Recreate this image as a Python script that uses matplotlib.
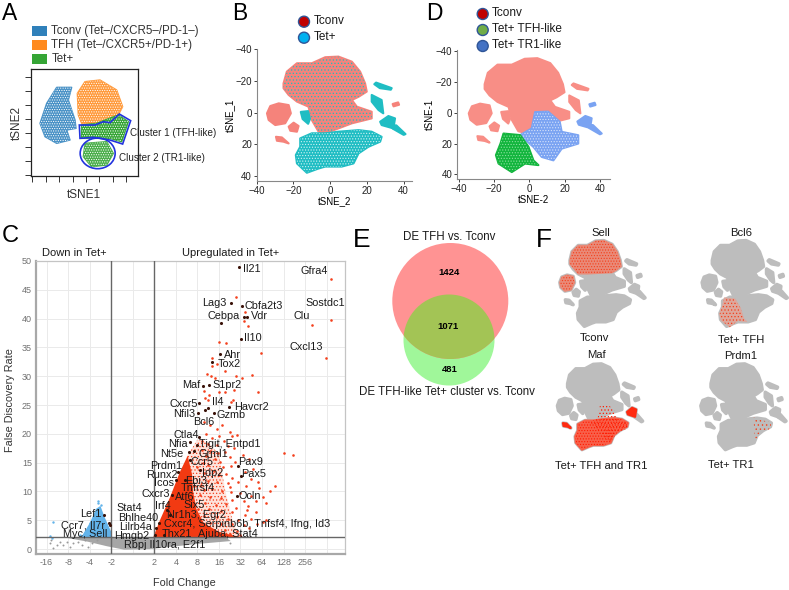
import matplotlib
matplotlib.use("Agg")
import matplotlib.pyplot as plt
from matplotlib.patches import Circle, Ellipse, Polygon

W, H = 789, 590
plt.rcParams['font.family'] = ['Liberation Sans', 'DejaVu Sans']
plt.rcParams['hatch.linewidth'] = 0.5

# tSNE outlines shared by panels B, D and F (tSNE_2, tSNE_1)
upper_x = [-25.4, -23.6, -18.1, -10, -2.7, 4.5, 11.8, 16.3, 19, 19.9, 15.4, 11.8, 14.5, 22.6, 22.6, 11.8, 4.5, -2.7, -6.3, -10, -11.8, -18.1, -22.6, -25.4]
upper_y = [-18.5, -25.9, -31.2, -31.2, -35, -35.4, -32.2, -25.9, -18.5, -13.3, -10, -8, -3.8, -0.6, 3.6, 6.7, 9.9, 13, 12, 4.6, -3.8, -7, -11.2, -15.4]
lower_x = [-16.3, -10, -2.7, 4.5, 15.4, 22.6, 28, 27.2, 20.8, 15.4, 12.7, 6.3, -2.7, -6.3, -12.7, -18.1, -18.7, -16.3]
lower_y = [16.2, 13, 13, 12, 11, 12, 15.2, 18.3, 21.5, 25.7, 32, 34, 34, 35.2, 37.9, 32, 26.7, 21.5]
blob_x = [-34.4, -32.6, -28, -22.6, -21.4, -24.5, -29.9, -33.5]
blob_y = [0.4, -4.2, -5.9, -4.8, 0.4, 6.7, 7.8, 4.6]
small1_x = [-22.6, -19.9, -17.2, -18.1, -21.7]
small1_y = [8.8, 6.3, 8.4, 12, 11.4]
small2_x = [-29.5, -26.3, -22.6, -25.4, -29]
small2_y = [15.2, 15.6, 19.4, 18.3, 17.7]
mid_x = [-16, -12, -11, -12, -15]
mid_y = [-0.5, -1, 4, 7, 4]
right1_x = [27.2, 31.7, 35.3, 34.4, 28]
right1_y = [5.7, 2.1, 3.6, 9.9, 7.8]
right2_x = [22.6, 28, 28.9, 26.3, 22.6]
right2_y = [-11.2, -8, 0.4, -1.7, -7]
tail_x = [33, 36, 41, 40, 34]
tail_y = [8, 8, 13.5, 14, 10]
strip_x = [24, 25, 33.5, 33, 27]
strip_y = [-18, -19, -15.5, -14.5, -15.5]
spot_x = [34, 37, 37.5, 34.5]
spot_y = [-5.5, -6.5, -5, -4]
# panel D splits the lower cloud in two
green_x = [-14.7, -5.3, -0.6, 2.3, 5.1, -2.5, -10, -17.5, -19, -16.4]
green_y = [13.5, 14.5, 22, 31, 34, 33, 38.5, 33, 27.5, 20]
blue_x = [-5.3, 1.3, 3.2, 10.6, 17.2, 18.3, 27.7, 27.7, 18.3, 13.6, 7, 2.3]
blue_y = [14.5, 10.2, -0.4, -0.7, 5.9, 12.4, 14.6, 20, 23.3, 30.9, 28.7, 22.2]

# panel A clusters (tSNE1, tSNE2, arbitrary units)
a_blue_x = [120, 140, 170, 215, 205, 225, 228, 200, 210, 170, 135]
a_blue_y = [370, 310, 262, 262, 300, 360, 385, 390, 420, 430, 410]
a_orange_x = [232, 255, 300, 350, 368, 355, 290, 245, 235]
a_orange_y = [280, 245, 240, 270, 320, 345, 370, 370, 345]
a_green1_x = [245, 290, 355, 385, 365, 330, 245]
a_green1_y = [375, 370, 345, 365, 425, 415, 415]
a_green2_x = [255, 320, 340, 320, 275, 250]
a_green2_y = [430, 425, 460, 495, 500, 470]
gate_x = [238, 285, 310, 330, 358, 392, 368, 330, 280, 240]
gate_y = [375, 375, 365, 368, 342, 362, 432, 420, 412, 415]
a_ticks_x = [95, 137, 177, 218, 258, 298, 338, 378]
a_ticks_y = [232, 273, 316, 358, 400, 442, 483, 525]

# panel C: log2 fold change and false discovery rate
fc_ticks = [-4, -3, -2, -1, 1, 2, 3, 4, 5, 6, 7, 8]
fc_labels = ['-16', '-8', '-4', '-2', '2', '4', '8', '16', '32', '64', '128', '256']
fdr_ticks = [0, 5, 10, 15, 20, 25, 30, 35, 40, 45, 50]
up_fc = [4.79, 9.18, 9.21, 8.33, 5.36, 5.22, 5.16, 3.99, 4.33, 5.93, 8.97, 3.68, 3.68, 3.89, 4.28, 3.43, 3.8, 3.61, 4.79, 5.07, 5.53, 3.3, 3.52, 4.02, 4.29, 4.7, 5.81, 3.34, 3.5, 4.63, 4.54,
         7.0, 7.45, 6.6, 6.37, 5.8, 6.05, 6.2, 4.82, 4.51, 5.28, 6.04,
         3.3, 3.6, 3.9, 4.15, 4.5, 4.6, 3.4, 3.7, 4.0, 4.25, 3.5, 3.2, 3.9, 4.4, 4.7, 3.2, 3.6, 3.95, 4.3, 3.4, 3.8, 4.05, 4.5, 4.75, 5.1, 5.4, 3.25, 3.5, 4.2, 4.55, 3.0, 3.3, 3.75, 4.0, 4.35, 4.6, 5.2, 5.6, 5.5, 5.85, 5.25, 4.9, 4.4, 3.9, 3.5, 3.15, 2.85, 3.3, 3.7, 4.15, 4.55, 5, 5.5, 5.7, 5.15, 4.6, 4.1, 3.6, 3.1, 2.8, 3.35, 3.85, 4.35, 4.8, 5.35, 5.7, 5.2, 4.6, 4.1, 3.55, 3.05, 2.7, 3.3, 3.9, 4.4, 4.9, 5.5, 6.2, 5.75, 5.15, 4.6, 4.1, 3.6, 3.2, 3.75, 4.3, 4.85, 5.4, 4.5, 5, 3.9, 3.4]
up_fdr = [43.69, 46.87, 39.75, 38.83, 38.66, 41.09, 39.64, 35.88, 35.7, 34.03, 33.1, 33.1, 31.77, 32.17, 30.9, 30.32, 29.74, 30.09, 29.98, 29.74, 30.2, 27.43, 26.73, 27.31, 27.2, 27.66, 27.31, 26.16, 25.8, 25.8, 25.46,
          16.7, 16.3, 11, 10.1, 11.7, 9.1, 8, 19.8, 10.8, 6.8, 4.7,
          22.1, 21.5, 20.8, 21.6, 20.4, 19.6, 20, 19.2, 19.6, 18.8, 18.2, 18.8, 18, 17.9, 17.6, 17.2, 17, 16.6, 16.9, 16.1, 15.6, 15.2, 15.9, 15.2, 16.3, 15.7, 15, 14.6, 14.2, 14.4, 14.2, 13.2, 13.6, 12.9, 13.1, 12.4, 13.4, 13.9, 12.1, 10.6, 11, 11.6, 11.4, 11.7, 11.8, 11.2, 11, 10.2, 10.4, 10.1, 9.9, 9.8, 9.3, 8.4, 8.3, 8.6, 8.9, 9.1, 9.4, 8.4, 8, 7.7, 7.9, 7.2, 7.5, 6.4, 6, 6.4, 6.7, 6.9, 7, 6.3, 5.7, 5.5, 5.2, 5, 5.3, 5.1, 4.4, 4.1, 4.3, 4.4, 4.6, 3.9, 3.4, 3.3, 3.2, 3.6, 2.6, 2.4, 2.4, 2.6]
gene_fc = [4.91, 4.54, 5.07, 5.16, 5.28, 4.09, 5.04, 4.05, 3.68, 3.27, 3.52, 3.09, 3.47, 4.48, 3.04, 3.77, 3.35, 3.09, 2.65, 2.99, 2.62, 2.84, 2.65, 4.9, 5.02, 4.82, 2.11, 2.0, 1.8, 1.57, 1.73, 1.23, 1.08, 1.03, 1.45, 2.42, 3.12, -1.34, -1.06, -1.09]
gene_fdr = [48.96, 42.7, 42.13, 40.33, 40.33, 39.3, 36.5, 33.9, 32.5, 28.36, 28.47, 25.29, 24.48, 24.6, 23.67, 23.67, 24.1, 19.5, 18.6, 18.06, 16.8, 17.07, 15.45, 14.47, 12.68, 9.26, 13.43, 12, 9.4, 6.8, 5.9, 4.46, 3.6, 2.4, 2.43, 12, 13.7, 6, 4.2, 4.57]
down_fc = [-3.84, -3.69, -3.76, -1.6, -1.63, -1.49, -1.68, -1.99, -2.22, -2.45, -1.75, -1.55]
down_fdr = [2.26, 4.75, 1.85, 8.4, 7.93, 7.64, 6.77, 4.46, 2.72, 2.43, 5.6, 6.4]
ns_fc = [-3.84, -3.69, -3.38, -3.22, -3.07, -2.91, -2.76, -2.53, -2.37, -2.22, -2.06, -1.91, -1.68, -3.78, -3.53, 4.5]
ns_fdr = [1, 0.12, 1.27, 0.7, 1.27, 0.4, 1, 1.27, 0.7, 1.56, 0.4, 1, 1.56, 1.56, 0.7, 1.1]
core_fc = [0.95, 1.26, 1.73, 2.19, 2.55, 2.75, 2.8, 2.95, 3.3, 4.0, 5.0]
core_fdr = [2.05, 5, 9, 13.4, 16.2, 13, 10, 7, 4.5, 3, 2.05]
haze_fc = [2.5, 3.0, 3.5, 4.0, 4.3, 4.7, 5.1, 3.0]
haze_fdr = [16, 19, 18.5, 16.5, 10, 4, 2.1, 2]
ns_core_fc = [-2.2, -1, 1, 4.3, 4.55, 3, 0.8, -0.4, -1.2, -2.1, -3]
ns_core_fdr = [2, 2, 2, 2.05, 1.4, 0.9, 0, -0.1, 0.5, 1.3, 1.9]
down_core_fc = [-2.4, -2, -1.7, -1.5, -1.3, -1, -0.95]
down_core_fdr = [2, 4.5, 7, 7.5, 5.5, 3, 2]

gene_labels = [
    ('Il21', 252.3, 268.7), ('Gfra4', 314.3, 270.7), ('Lag3', 214.3, 303.3), ('Cbfa2t3', 264, 306),
    ('Sostdc1', 325, 303.3), ('Cebpa', 224, 315.7), ('Vdr', 259, 315.7), ('Clu', 301.3, 315.7),
    ('Il10', 252.7, 338), ('Cxcl13', 306.7, 347.3), ('Ahr', 232.7, 355), ('Tox2', 229.3, 364.3),
    ('Maf', 191, 384.7), ('S1pr2', 226.7, 384.7), ('Cxcr5', 183.3, 404), ('Il4', 217.3, 401.7),
    ('Havcr2', 251, 407.3), ('Nfil3', 184.3, 414), ('Gzmb', 230.7, 415), ('Bcl6', 204, 421.7),
    ('Ctla4', 186.7, 435), ('Nfia', 177.7, 444.3), ('Tigit, Entpd1', 230, 444), ('Nt5e', 171.7, 454.3),
    ('Grml1', 213.3, 454), ('Prdm1', 165.7, 465.7), ('Ccr5', 201.7, 462.3), ('Pax9', 251, 461.7),
    ('Idp2', 212.3, 472.7), ('Pax5', 254, 474), ('Runx2', 161.7, 475.3), ('Ebi3', 196, 480.7),
    ('Icos', 164, 483.3), ('Tnfrsf4', 197.7, 487.7), ('Cxcr3', 156, 493.7), ('Atf6', 185, 496.7),
    ('Ocln', 250, 495.7), ('Six5', 194, 505), ('Irf4', 163.3, 506.3), ('Stat4', 129.3, 508.3),
    ('Lef1', 90.7, 514.3), ('Nr1h3, Egr2', 196.7, 515), ('Bhlhe40', 137.7, 518.3), ('Ccr7, Il7r', 82.7, 525),
    ('Cxcr4, Serpinb6b, Tnfsf4, Ifng, Id3', 246.7, 524), ('Lilrb4a', 135.7, 527), ('Myc, Sell', 85, 534.3),
    ('Hmgb2', 132, 536), ('Thx21', 177.3, 534), ('Ajuba, Stat4', 228.3, 534), ('Rbpj Il10ra, E2f1', 165, 545.3),
]

SALMON = '#F5837B'
TEAL = '#1FBDC3'


def px_axes(left, top, right, bottom):
    return fig.add_axes([left / W, 1 - bottom / H, (right - left) / W, (bottom - top) / H])


def tsne_axes(ax, xlim, ylim, xlabel, ylabel):
    ax.set_xlim(*xlim)
    ax.set_ylim(*ylim)
    ax.set_xticks([-40, -20, 0, 20, 40])
    ax.set_yticks([-40, -20, 0, 20, 40])
    ax.set_xticklabels(['\u221240', '\u221220', '0', '20', '40'])
    ax.set_yticklabels(['\u221240', '\u221220', '0', '20', '40'])
    ax.tick_params(labelsize=7, length=2, width=0.6, pad=1.5, colors='#222222')
    for s in ['top', 'right']:
        ax.spines[s].set_visible(False)
    for s in ['left', 'bottom']:
        ax.spines[s].set_color('#888888')
        ax.spines[s].set_linewidth(0.8)
    ax.set_xlabel(xlabel, fontsize=7, labelpad=0.5)
    ax.set_ylabel(ylabel, fontsize=7, labelpad=0.5)


def cloud(ax, x, y, color, hatch=None, speck='white', zorder=2, fat=1.5):
    # base shape is fattened with a same-colour edge, the stipple goes on top
    if color != 'none':
        ax.fill(x, y, facecolor=color, edgecolor=color, linewidth=fat, joinstyle='round', zorder=zorder)
    if hatch:
        ax.fill(x, y, facecolor='none', edgecolor=speck, linewidth=0, hatch=hatch, zorder=zorder)


fig = plt.figure(figsize=(W / 100, H / 100), dpi=100)

# Panel A
ax = px_axes(30.7, 69, 138.3, 175.7)
ax.set_xlim(92, 415)
ax.set_ylim(527, 207)
ax.set_xticks(a_ticks_x)
ax.set_yticks(a_ticks_y)
ax.set_xticklabels([])
ax.set_yticklabels([])
ax.tick_params(length=4, width=0.7, color='#333333')
for s in ax.spines.values():
    s.set_linewidth(0.9)
    s.set_color('#222222')
cloud(ax, a_blue_x, a_blue_y, '#4A92C6', '.......', '#FFFFFF', fat=1)
cloud(ax, a_orange_x, a_orange_y, '#FF9A3C', '.......', '#FFFFFF', fat=1)
cloud(ax, a_green1_x, a_green1_y, '#35A535', '.......', '#FFFFFF', fat=1)
cloud(ax, a_green2_x, a_green2_y, '#4AAE4A', '.......', '#FFFFFF', fat=1)
ax.add_patch(Polygon(list(zip(gate_x, gate_y)), closed=True, fill=False, edgecolor='#2233DD', linewidth=1.2, zorder=4))
ax.add_patch(Ellipse((293, 460), 105, 92, fill=False, edgecolor='#2233DD', linewidth=1.2, zorder=4))

# Panel B
ax = px_axes(256.7, 49.3, 412.3, 181)
tsne_axes(ax, (-39.8, 44.7), (43.1, -40), 'tSNE_2', 'tSNE_1')
for ox, oy in [(upper_x, upper_y), (blob_x, blob_y), (small1_x, small1_y), (small2_x, small2_y), (spot_x, spot_y)]:
    cloud(ax, ox, oy, SALMON)
cloud(ax, upper_x, upper_y, 'none', '.....', TEAL, 3)
for ox, oy in [(right1_x, right1_y), (right2_x, right2_y), (tail_x, tail_y), (strip_x, strip_y), (mid_x, mid_y)]:
    cloud(ax, ox, oy, TEAL)
cloud(ax, lower_x, lower_y, TEAL, '......', '#CFF3F4', 3)

# Panel D
ax = px_axes(457.3, 50, 610, 179)
tsne_axes(ax, (-40.9, 45.7), (43, -40.7), 'tSNE-2', 'tSNE-1')
for ox, oy in [(upper_x, upper_y), (blob_x, blob_y), (small1_x, small1_y), (small2_x, small2_y), (strip_x, strip_y),
               (right2_x, right2_y), (mid_x, mid_y)]:
    cloud(ax, ox, oy, '#F88E86')
for ox, oy in [(right1_x, right1_y), (tail_x, tail_y), (spot_x, spot_y)]:
    cloud(ax, ox, oy, '#7AA3F2')
cloud(ax, blue_x, blue_y, '#7AA3F2', '......', '#D5E2FB', 3)
cloud(ax, green_x, green_y, '#12B53D', '......', '#8CE09F', 3)

# Panel C
ax = px_axes(36, 261, 345, 554.3)
ax.set_xlim(-4.49, 9.85)
ax.set_ylim(-0.9, 50)
ax.set_xticks(fc_ticks + [0, 9])
ax.set_xticklabels(fc_labels + ['', ''])
ax.set_yticks(fdr_ticks)
ax.grid(True, color='#EAEAEA', linewidth=0.7, zorder=0)
ax.set_axisbelow(True)
ax.tick_params(labelsize=6.5, length=0, pad=3, labelcolor='#707070')
for s in ['top', 'right']:
    ax.spines[s].set_color('#C4C4C4')
    ax.spines[s].set_linewidth(0.9)
for s in ['left', 'bottom']:
    ax.spines[s].set_color('#A8A8A8')
    ax.spines[s].set_linewidth(1.6)
ax.fill(ns_core_fc, ns_core_fdr, facecolor='#A6A6A6', linewidth=0, zorder=2)
ax.fill(down_core_fc, down_core_fdr, facecolor='#62B3EA', linewidth=0, zorder=2)
ax.fill(haze_fc, haze_fdr, facecolor='#FEE3DB', linewidth=0, zorder=2)
ax.fill(haze_fc, haze_fdr, facecolor='none', edgecolor='#F4401C', linewidth=0, hatch='.....', zorder=2)
ax.fill(core_fc, core_fdr, facecolor='#F23A12', linewidth=0, zorder=3)
ax.scatter(ns_fc, ns_fdr, s=2, color='#9A9A9A', linewidths=0, zorder=3)
ax.scatter(down_fc, down_fdr, s=3, color='#62B3EA', linewidths=0, zorder=3)
ax.scatter(up_fc, up_fdr, s=3.5, color='#F4401C', linewidths=0, zorder=3)
ax.scatter(gene_fc, gene_fdr, s=5, color='#3A1208', linewidths=0, zorder=4)
ax.axvline(-1, color='#666666', linewidth=1, zorder=3)
ax.axvline(1, color='#666666', linewidth=1, zorder=3)
ax.axhline(2.08, color='#666666', linewidth=1, zorder=3)

# Panel F
f_panels = [(598.7, 282), (741, 282), (596.3, 405.3), (739.7, 405.3)]
f_axes = []
for x0, y0 in f_panels:
    ax = px_axes(x0 - 40 * 1.13, y0 - 40 * 1.17, x0 + 45 * 1.13, y0 + 42 * 1.17)
    ax.set_xlim(-40, 45)
    ax.set_ylim(42, -40)
    ax.axis('off')
    for ox, oy in [(upper_x, upper_y), (lower_x, lower_y), (blob_x, blob_y), (small1_x, small1_y), (small2_x, small2_y), (mid_x, mid_y),
                   (right1_x, right1_y), (right2_x, right2_y), (tail_x, tail_y), (strip_x, strip_y), (spot_x, spot_y)]:
        cloud(ax, ox, oy, '#BDBDBD', fat=2.5)
    f_axes.append(ax)
# Sell: red over the top of the upper cloud and the left blob
cloud(f_axes[0], upper_x[:12] + [-10, -18.1, -25.4], upper_y[:12] + [-7, -7, -15.4], '#E98A78', '......', '#F4401C', 3, fat=1)
cloud(f_axes[0], blob_x, blob_y, '#E98A78', '......', '#F4401C', 3, fat=1)
cloud(f_axes[1], green_x, green_y, '#DDA79C', '.....', '#F4401C', 3, fat=0.5)
cloud(f_axes[2], lower_x, lower_y, '#F8604A', '......', '#FF1A00', 3)
cloud(f_axes[2], right1_x, right1_y, '#FF2A10', zorder=3)
cloud(f_axes[2], small2_x, small2_y, '#FF2A10', zorder=3)
cloud(f_axes[2], blue_x, blue_y, 'none', '.....', '#FF1A00', 3)
cloud(f_axes[3], [12, 18.3, 27.7, 27.7, 18.3, 13.6], [10, 12.4, 14.6, 20, 23.3, 30], 'none', '....', '#F4401C', 3)

# overlay in pixel units for all annotation
ov = fig.add_axes([0, 0, 1, 1], zorder=10)
ov.set_xlim(0, W)
ov.set_ylim(H, 0)
ov.axis('off')
ov.patch.set_alpha(0)


def label(x, y, s, size=8, **kw):
    kw.setdefault('ha', 'center')
    kw.setdefault('color', '#1A1A1A')
    ov.text(x, y, s, fontsize=size, va='center', **kw)


for s, x, y, size in [('A', 2, 13, 16.5), ('B', 232, 13, 16.5), ('D', 426, 13, 16.5), ('C', 2, 236, 17),
                      ('E', 353, 240, 19), ('F', 536, 240, 19)]:
    label(x, y, s, size, ha='left', color='black')

# panel A legend and axis names
for y, c in zip([31, 45, 58.5], ['#2F80BA', '#FF8A1E', '#35A535']):
    ov.add_patch(Polygon([(32, y - 5), (47.5, y - 5), (47.5, y + 5), (32, y + 5)], closed=True, facecolor=c, linewidth=0))
label(51.5, 31, 'Tconv (Tet\u2013/CXCR5\u2013/PD-1\u2013)', 8.3, ha='left', color='#333333')
label(51.5, 45, 'TFH (Tet\u2013/CXCR5+/PD-1+)', 8.3, ha='left', color='#333333')
label(51.5, 58.5, 'Tet+', 8.3, ha='left', color='#333333')
label(130, 132.5, 'Cluster 1 (TFH-like)', 7.1, ha='left', color='#222222')
label(119, 158, 'Cluster 2 (TR1-like)', 7.1, ha='left', color='#222222')
label(83.5, 195, 'tSNE1', 8.5, color='#333333')
label(17, 123, 'tSNE2', 8.5, color='#333333', rotation=90)

# panel B and D legends
for x, y, c, s in [(304, 21.7, '#C00000', 'Tconv'), (304, 37.7, '#00B0F0', 'Tet+'),
                   (482.7, 14, '#C00000', 'Tconv'), (482.7, 30, '#70AD47', 'Tet+ TFH-like'), (482.7, 46, '#4472C4', 'Tet+ TR1-like')]:
    ov.add_patch(Ellipse((x, y), 11, 11, facecolor=c, edgecolor='#2F5597', linewidth=1))
    label(x + 9.5, y - 0.5, s, 8.5, ha='left')

# panel C text
label(74, 253.3, 'Down in Tet+', 8)
label(230.7, 252.7, 'Upregulated in Tet+', 8)
label(184, 582.5, 'Fold Change', 7.8, color='#333333')
label(10, 400, 'False Discovery Rate', 7.8, color='#333333', rotation=90)
for s, x, y in gene_labels:
    label(x, y, s, 7.8)

# panel E venn diagram
red = Circle((450.3, 301), 58, facecolor='#FF9393', linewidth=0, zorder=2)
ov.add_patch(Circle((449, 340), 45.5, facecolor='#A0F79A', linewidth=0, zorder=1))
ov.add_patch(red)
overlap = Circle((449, 340), 45.5, facecolor='#A3C455', linewidth=0, zorder=3)
ov.add_patch(overlap)
overlap.set_clip_path(red)
label(449, 237.3, 'DE TFH vs. Tconv', 8.3)
label(447, 392, 'DE TFH-like Tet+ cluster vs. Tconv', 8.3)
label(449, 272.3, '1424', 6.8, fontweight='bold', color='black', zorder=5)
label(448.3, 326.7, '1071', 6.8, fontweight='bold', color='black', zorder=5)
label(450, 369.3, '481', 6.8, fontweight='bold', color='black', zorder=5)

# panel F text
for s, x, y in [('Sell', 600.5, 233), ('Bcl6', 741, 233), ('Tconv', 594, 338), ('Tet+ TFH', 741, 340),
                ('Maf', 596, 355), ('Prdm1', 741, 356), ('Tet+ TFH and TR1', 601, 466), ('Tet+ TR1', 731, 465)]:
    label(x, y, s, 8.1)

fig.savefig('out.png', dpi=100)
